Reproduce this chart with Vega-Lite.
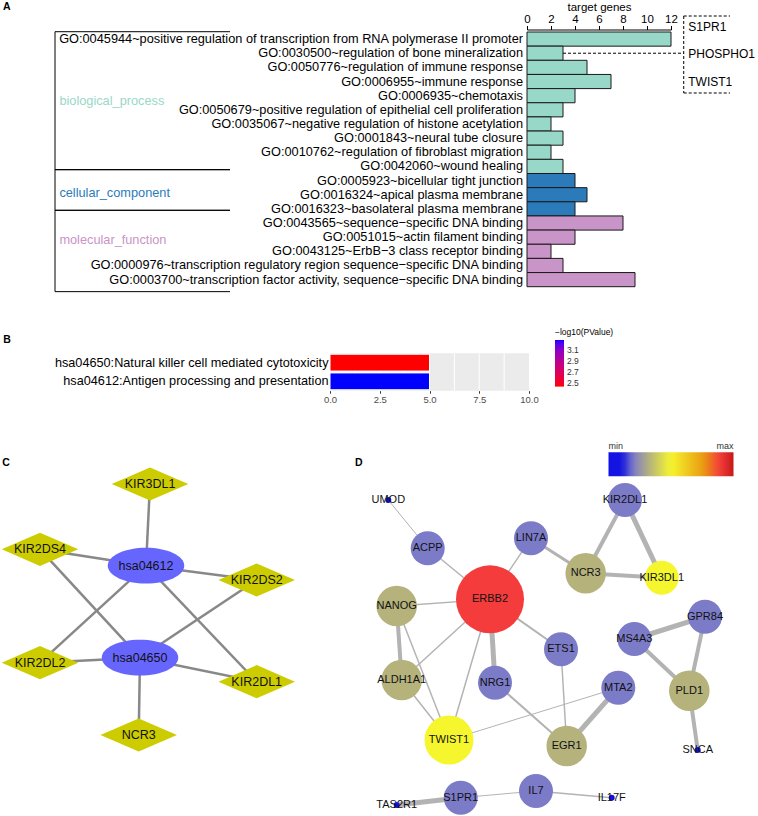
{
"$schema": "https://vega.github.io/schema/vega-lite/v6.json",
"width": 758,
"height": 816,
"autosize": {"type": "none"},
"padding": 0,
"background": "#ffffff",
"config": {"font": "Liberation Sans", "view": {"stroke": null}},
"datasets": {
 "goTerms": [
  {"term": "GO:0045944~positive regulation of transcription from RNA polymerase II promoter", "category": "biological_process", "genes": 12},
  {"term": "GO:0030500~regulation of bone mineralization", "category": "biological_process", "genes": 3},
  {"term": "GO:0050776~regulation of immune response", "category": "biological_process", "genes": 5},
  {"term": "GO:0006955~immune response", "category": "biological_process", "genes": 7},
  {"term": "GO:0006935~chemotaxis", "category": "biological_process", "genes": 4},
  {"term": "GO:0050679~positive regulation of epithelial cell proliferation", "category": "biological_process", "genes": 3},
  {"term": "GO:0035067~negative regulation of histone acetylation", "category": "biological_process", "genes": 2},
  {"term": "GO:0001843~neural tube closure", "category": "biological_process", "genes": 3},
  {"term": "GO:0010762~regulation of fibroblast migration", "category": "biological_process", "genes": 2},
  {"term": "GO:0042060~wound healing", "category": "biological_process", "genes": 3},
  {"term": "GO:0005923~bicellular tight junction", "category": "cellular_component", "genes": 4},
  {"term": "GO:0016324~apical plasma membrane", "category": "cellular_component", "genes": 5},
  {"term": "GO:0016323~basolateral plasma membrane", "category": "cellular_component", "genes": 4},
  {"term": "GO:0043565~sequence−specific DNA binding", "category": "molecular_function", "genes": 8},
  {"term": "GO:0051015~actin filament binding", "category": "molecular_function", "genes": 4},
  {"term": "GO:0043125~ErbB−3 class receptor binding", "category": "molecular_function", "genes": 2},
  {"term": "GO:0000976~transcription regulatory region sequence−specific DNA binding", "category": "molecular_function", "genes": 3},
  {"term": "GO:0003700~transcription factor activity, sequence−specific DNA binding", "category": "molecular_function", "genes": 9}
 ],
 "goCategories": [
  {"category": "biological_process", "from": -0.02, "to": 9.73, "mid": 4.88},
  {"category": "cellular_component", "from": 9.73, "to": 12.6, "mid": 11.38},
  {"category": "molecular_function", "from": 12.6, "to": 18.35, "mid": 14.68}
 ],
 "boneGenes": [{"gene": "S1PR1"}, {"gene": "PHOSPHO1"}, {"gene": "TWIST1"}],
 "kegg": [
  {"term": "hsa04650:Natural killer cell mediated cytotoxicity", "count": 5, "logp": 2.44},
  {"term": "hsa04612:Antigen processing and presentation", "count": 5, "logp": 3.28}
 ],
 "gridB": [{"at": 1.25}, {"at": 2.5}, {"at": 3.75}, {"at": 5}, {"at": 6.25}, {"at": 7.5}, {"at": 8.75}],
 "nodesC": [
  {"id": "KIR3DL1", "type": "gene", "x": 150, "y": 64},
  {"id": "KIR2DS4", "type": "gene", "x": 40, "y": 129.3},
  {"id": "hsa04612", "type": "pathway", "x": 146, "y": 145.7},
  {"id": "KIR2DS2", "type": "gene", "x": 256.7, "y": 160},
  {"id": "hsa04650", "type": "pathway", "x": 140, "y": 237.7},
  {"id": "KIR2DL2", "type": "gene", "x": 40, "y": 242.7},
  {"id": "KIR2DL1", "type": "gene", "x": 256.7, "y": 261.7},
  {"id": "NCR3", "type": "gene", "x": 138.7, "y": 315}
 ],
 "edgesC": [
  {"source": "hsa04612", "target": "KIR3DL1"},
  {"source": "hsa04612", "target": "KIR2DS4"},
  {"source": "hsa04612", "target": "KIR2DS2"},
  {"source": "hsa04612", "target": "KIR2DL2"},
  {"source": "hsa04612", "target": "KIR2DL1"},
  {"source": "hsa04650", "target": "KIR2DS4"},
  {"source": "hsa04650", "target": "KIR2DS2"},
  {"source": "hsa04650", "target": "KIR2DL2"},
  {"source": "hsa04650", "target": "KIR2DL1"},
  {"source": "hsa04650", "target": "NCR3"}
 ],
 "nodesD": [
  {"id": "UMOD", "x": 88.3, "y": 80, "degree": 1, "score": 0},
  {"id": "ACPP", "x": 127.7, "y": 128.3, "degree": 2, "score": 0.9},
  {"id": "LIN7A", "x": 231, "y": 118.3, "degree": 2, "score": 0.9},
  {"id": "KIR2DL1", "x": 325, "y": 80, "degree": 2, "score": 0.9},
  {"id": "NCR3", "x": 285.7, "y": 153.3, "degree": 3, "score": 1.5},
  {"id": "KIR3DL1", "x": 361.7, "y": 157.7, "degree": 2, "score": 2.3},
  {"id": "ERBB2", "x": 190, "y": 179.3, "degree": 7, "score": 4.1},
  {"id": "NANOG", "x": 96.7, "y": 186, "degree": 3, "score": 1.5},
  {"id": "GPR84", "x": 405, "y": 196.7, "degree": 2, "score": 0.9},
  {"id": "MS4A3", "x": 334.3, "y": 219, "degree": 2, "score": 0.9},
  {"id": "ETS1", "x": 261, "y": 229.3, "degree": 2, "score": 0.9},
  {"id": "ALDH1A1", "x": 101.7, "y": 260, "degree": 3, "score": 1.5},
  {"id": "NRG1", "x": 195, "y": 262.7, "degree": 2, "score": 0.9},
  {"id": "MTA2", "x": 318.3, "y": 267.7, "degree": 2, "score": 0.9},
  {"id": "PLD1", "x": 389.3, "y": 270.7, "degree": 3, "score": 1.5},
  {"id": "TWIST1", "x": 149, "y": 320, "degree": 4, "score": 2.3},
  {"id": "EGR1", "x": 266.7, "y": 326, "degree": 3, "score": 1.5},
  {"id": "SNCA", "x": 397.7, "y": 330, "degree": 1, "score": 0},
  {"id": "TAS2R1", "x": 96.7, "y": 385, "degree": 1, "score": 0},
  {"id": "S1PR1", "x": 160.7, "y": 377.7, "degree": 2, "score": 0.9},
  {"id": "IL7", "x": 236, "y": 371, "degree": 2, "score": 0.9},
  {"id": "IL17F", "x": 311.7, "y": 377.7, "degree": 1, "score": 0}
 ],
 "edgesD": [
  {"source": "UMOD", "target": "ACPP", "weight": 0.40},
  {"source": "ACPP", "target": "ERBB2", "weight": 0.47},
  {"source": "LIN7A", "target": "ERBB2", "weight": 0.47},
  {"source": "LIN7A", "target": "NCR3", "weight": 0.70},
  {"source": "NCR3", "target": "KIR2DL1", "weight": 0.84},
  {"source": "KIR2DL1", "target": "KIR3DL1", "weight": 0.99},
  {"source": "NCR3", "target": "KIR3DL1", "weight": 0.84},
  {"source": "NANOG", "target": "ERBB2", "weight": 0.45},
  {"source": "ERBB2", "target": "ETS1", "weight": 0.55},
  {"source": "ERBB2", "target": "NRG1", "weight": 0.99},
  {"source": "ERBB2", "target": "ALDH1A1", "weight": 0.47},
  {"source": "ERBB2", "target": "TWIST1", "weight": 0.47},
  {"source": "NANOG", "target": "ALDH1A1", "weight": 0.84},
  {"source": "NANOG", "target": "TWIST1", "weight": 0.47},
  {"source": "ALDH1A1", "target": "TWIST1", "weight": 0.47},
  {"source": "NRG1", "target": "EGR1", "weight": 0.55},
  {"source": "ETS1", "target": "EGR1", "weight": 0.47},
  {"source": "MTA2", "target": "EGR1", "weight": 0.99},
  {"source": "MTA2", "target": "TWIST1", "weight": 0.40},
  {"source": "GPR84", "target": "MS4A3", "weight": 0.99},
  {"source": "MS4A3", "target": "PLD1", "weight": 0.84},
  {"source": "GPR84", "target": "PLD1", "weight": 0.84},
  {"source": "PLD1", "target": "SNCA", "weight": 0.84},
  {"source": "TAS2R1", "target": "S1PR1", "weight": 0.99},
  {"source": "S1PR1", "target": "IL7", "weight": 0.40},
  {"source": "IL7", "target": "IL17F", "weight": 0.47}
 ],
 "panels": [
  {"panel": "A", "px": 0.004, "py": 0.0086},
  {"panel": "B", "px": 0.0044, "py": 0.4167},
  {"panel": "C", "px": 0.003, "py": 0.567},
  {"panel": "D", "px": 0.4683, "py": 0.567}
 ]
},
"layer": [
 {
  "layer": [
   {
    "data": {"name": "goTerms"},
    "layer": [
     {
      "mark": {"type": "bar", "stroke": "#1a1a1a", "strokeWidth": 1},
      "encoding": {
       "y": {"field": "term", "type": "nominal", "sort": null,
        "scale": {"range": [32, 286.7], "paddingInner": 0, "paddingOuter": 0},
        "axis": {"orient": "left", "offset": -527, "title": null, "domain": false, "ticks": false, "labelPadding": 4.5, "labelFontSize": 12.75, "labelColor": "#000000", "labelLimit": 600}},
       "x": {"field": "genes", "type": "quantitative",
        "scale": {"domain": [0, 12], "range": [527, 671], "nice": false, "zero": true},
        "axis": {"orient": "top", "offset": -29.5, "values": [0, 2, 4, 6, 8, 10, 12], "format": "d", "title": "target genes", "titleFontSize": 11.5, "titleFontWeight": "normal", "titleColor": "#000000", "titlePadding": 1, "labelFontSize": 11.5, "labelColor": "#000000", "labelPadding": 1, "labelFlush": false, "tickSize": 4, "tickColor": "#000000", "domainColor": "#000000", "grid": false}},
       "fill": {"field": "category", "type": "nominal", "scale": {"domain": ["biological_process", "cellular_component", "molecular_function"], "range": ["#98d8c8", "#2b7bba", "#c994c7"]}, "legend": null}
      }
     },
     {
      "transform": [{"filter": "datum.term === 'GO:0030500~regulation of bone mineralization'"}],
      "mark": {"type": "rule", "stroke": "#000000", "strokeWidth": 1, "strokeDash": [3, 2]},
      "encoding": {
       "y": {"field": "term", "type": "nominal", "sort": null},
       "x": {"field": "genes", "type": "quantitative"},
       "x2": {"datum": 13.06}
      }
     }
    ]
   },
   {
    "data": {"name": "goCategories"},
    "layer": [
     {
      "mark": {"type": "rule", "stroke": "#000000", "strokeWidth": 1},
      "encoding": {
       "x": {"datum": 0, "type": "quantitative", "scale": {"domain": [0, 1], "range": [55, 230], "nice": false, "zero": false}, "axis": null},
       "x2": {"datum": 1},
       "y": {"field": "from", "type": "quantitative", "scale": {"domain": [0, 18], "range": [32, 286.7], "nice": false, "zero": false}, "axis": null}
      }
     },
     {
      "mark": {"type": "rule", "stroke": "#000000", "strokeWidth": 1},
      "encoding": {
       "x": {"datum": 0, "type": "quantitative", "scale": {"domain": [0, 1], "range": [55, 230], "nice": false, "zero": false}, "axis": null},
       "x2": {"datum": 1},
       "y": {"field": "to", "type": "quantitative", "scale": {"domain": [0, 18], "range": [32, 286.7], "nice": false, "zero": false}, "axis": null}
      }
     },
     {
      "mark": {"type": "rule", "stroke": "#000000", "strokeWidth": 1},
      "encoding": {
       "x": {"datum": 0, "type": "quantitative", "scale": {"domain": [0, 1], "range": [55, 230], "nice": false, "zero": false}, "axis": null},
       "y": {"aggregate": "min", "field": "from", "type": "quantitative", "scale": {"domain": [0, 18], "range": [32, 286.7], "nice": false, "zero": false}, "axis": null},
       "y2": {"aggregate": "max", "field": "to"}
      }
     },
     {
      "mark": {"type": "text", "align": "left", "baseline": "middle", "fontSize": 12.75},
      "encoding": {
       "x": {"datum": 0.025, "type": "quantitative", "scale": {"domain": [0, 1], "range": [55, 230], "nice": false, "zero": false}, "axis": null},
       "y": {"field": "mid", "type": "quantitative", "scale": {"domain": [0, 18], "range": [32, 286.7], "nice": false, "zero": false}, "axis": null},
       "text": {"field": "category"},
       "fill": {"field": "category", "type": "nominal", "scale": {"domain": ["biological_process", "cellular_component", "molecular_function"], "range": ["#98d8c8", "#2b7bba", "#c994c7"]}, "legend": null}
      }
     }
    ]
   },
   {
    "data": {"values": [{}]},
    "layer": [
     {
      "mark": {"type": "rule", "stroke": "#000000", "strokeWidth": 1, "strokeDash": [3, 2]},
      "encoding": {
       "x": {"datum": 13.06, "type": "quantitative", "scale": {"domain": [0, 12], "range": [527, 671], "nice": false, "zero": false}, "axis": null},
       "y": {"datum": -1.13, "type": "quantitative", "scale": {"domain": [0, 18], "range": [32, 286.7], "nice": false, "zero": false}, "axis": null},
       "y2": {"datum": 4.31}
      }
     },
     {
      "mark": {"type": "rule", "stroke": "#000000", "strokeWidth": 1, "strokeDash": [3, 2]},
      "encoding": {
       "x": {"datum": 13.06, "type": "quantitative", "scale": {"domain": [0, 12], "range": [527, 671], "nice": false, "zero": false}, "axis": null},
       "x2": {"datum": 16.92},
       "y": {"datum": -1.13, "type": "quantitative", "scale": {"domain": [0, 18], "range": [32, 286.7], "nice": false, "zero": false}, "axis": null}
      }
     },
     {
      "mark": {"type": "rule", "stroke": "#000000", "strokeWidth": 1, "strokeDash": [3, 2]},
      "encoding": {
       "x": {"datum": 13.06, "type": "quantitative", "scale": {"domain": [0, 12], "range": [527, 671], "nice": false, "zero": false}, "axis": null},
       "x2": {"datum": 16.92},
       "y": {"datum": 4.31, "type": "quantitative", "scale": {"domain": [0, 18], "range": [32, 286.7], "nice": false, "zero": false}, "axis": null}
      }
     }
    ]
   },
   {
    "data": {"name": "boneGenes"},
    "mark": {"type": "text", "align": "left", "baseline": "middle", "fontSize": 12, "fill": "#000000"},
    "encoding": {
     "x": {"datum": 13.44, "type": "quantitative", "scale": {"domain": [0, 12], "range": [527, 671], "nice": false, "zero": false}, "axis": null},
     "y": {"field": "gene", "type": "nominal", "sort": null, "scale": {"type": "point", "range": [26.7, 82], "padding": 0}, "axis": null},
     "text": {"field": "gene"}
    }
   }
  ],
  "resolve": {"scale": {"x": "independent", "y": "independent"}}
 },
 {
  "layer": [
   {
    "layer": [
     {
      "data": {"values": [{}]},
      "mark": {"type": "rect", "fill": "#ebebeb"},
      "encoding": {
       "x": {"datum": 0, "type": "quantitative", "scale": {"domain": [0, 10], "range": [330, 529], "nice": false, "zero": false}, "axis": null},
       "x2": {"datum": 10},
       "y": {"datum": 0, "type": "quantitative", "scale": {"domain": [0, 1], "range": [353.3, 390.7], "nice": false, "zero": false}, "axis": null},
       "y2": {"datum": 1}
      }
     },
     {
      "data": {"name": "gridB"},
      "mark": {"type": "rule", "stroke": "#ffffff", "strokeWidth": 1},
      "encoding": {
       "x": {"field": "at", "type": "quantitative", "scale": {"domain": [0, 10], "range": [330, 529], "nice": false, "zero": false}, "axis": null},
       "y": {"datum": 0, "type": "quantitative", "scale": {"domain": [0, 1], "range": [353.3, 390.7], "nice": false, "zero": false}, "axis": null},
       "y2": {"datum": 1}
      }
     }
    ]
   },
   {
    "data": {"name": "kegg"},
    "mark": {"type": "bar", "stroke": "#ffffff", "strokeWidth": 1},
    "encoding": {
     "y": {"field": "term", "type": "nominal", "sort": null,
      "scale": {"range": [353.3, 390.7], "paddingInner": 0.1, "paddingOuter": 0.05},
      "axis": {"orient": "left", "offset": -330, "title": null, "domain": false, "ticks": false, "labelPadding": 2, "labelFontSize": 12.7, "labelColor": "#000000", "labelLimit": 600}},
     "x": {"field": "count", "type": "quantitative",
      "scale": {"domain": [0, 10], "range": [330, 529], "nice": false, "zero": false},
      "axis": {"orient": "bottom", "offset": -425.3, "values": [0, 2.5, 5, 7.5, 10], "format": ".1f", "grid": false, "domain": false, "tickSize": 2.5, "tickColor": "#333333", "labelColor": "#4d4d4d", "labelFontSize": 9.5, "labelPadding": 1.5, "labelFlush": false, "title": null}},
     "color": {"field": "logp", "type": "quantitative",
      "scale": {"range": ["#ff0000", "#0000ff"], "interpolate": "lab", "zero": false, "nice": false},
      "legend": {"orient": "none", "legendX": 555, "legendY": 328, "direction": "vertical", "title": "−log10(PValue)", "titleFontSize": 8.5, "titleFontWeight": "normal", "titleColor": "#000000", "titlePadding": 3.5, "gradientLength": 46.6, "gradientThickness": 9, "gradientStrokeWidth": 0, "values": [2.5, 2.7, 2.9, 3.1], "format": ".1f", "labelFontSize": 8.5, "labelColor": "#333333", "labelOffset": 3, "labelOverlap": false}}
    }
   }
  ],
  "resolve": {"scale": {"x": "independent", "y": "independent"}}
 },
 {
  "layer": [
   {
    "data": {"name": "edgesC"},
    "transform": [
     {"lookup": "source", "from": {"data": {"name": "nodesC"}, "key": "id", "fields": ["x", "y"]}, "as": ["sx", "sy"]},
     {"lookup": "target", "from": {"data": {"name": "nodesC"}, "key": "id", "fields": ["x", "y"]}, "as": ["tx", "ty"]}
    ],
    "mark": {"type": "rule", "stroke": "#888888", "strokeWidth": 2.5},
    "encoding": {
     "x": {"field": "sx", "type": "quantitative", "scale": {"domain": [0, 300], "range": [0, 300], "nice": false, "zero": false}, "axis": null},
     "y": {"field": "sy", "type": "quantitative", "scale": {"domain": [0, 340], "range": [420, 760], "nice": false, "zero": false}, "axis": null},
     "x2": {"field": "tx"},
     "y2": {"field": "ty"}
    }
   },
   {
    "data": {"name": "nodesC"},
    "mark": {"type": "point", "filled": true, "opacity": 1, "size": 5850, "strokeWidth": 0},
    "encoding": {
     "x": {"field": "x", "type": "quantitative", "scale": {"domain": [0, 300], "range": [0, 300], "nice": false, "zero": false}, "axis": null},
     "y": {"field": "y", "type": "quantitative", "scale": {"domain": [0, 340], "range": [420, 760], "nice": false, "zero": false}, "axis": null},
     "shape": {"field": "type", "type": "nominal", "scale": {"domain": ["pathway", "gene"], "range": ["M-1,0A1,0.4675,0,1,1,1,0A1,0.4675,0,1,1,-1,0Z", "M-1,0L0,-0.434L1,0L0,0.434Z"]}, "legend": null},
     "color": {"field": "type", "type": "nominal", "scale": {"domain": ["pathway", "gene"], "range": ["#6666ff", "#cccc00"]}, "legend": null}
    }
   },
   {
    "data": {"name": "nodesC"},
    "mark": {"type": "text", "fontSize": 12.5, "fill": "#111111", "baseline": "middle", "align": "center"},
    "encoding": {
     "x": {"field": "x", "type": "quantitative", "scale": {"domain": [0, 300], "range": [0, 300], "nice": false, "zero": false}, "axis": null},
     "y": {"field": "y", "type": "quantitative", "scale": {"domain": [0, 340], "range": [420, 760], "nice": false, "zero": false}, "axis": null},
     "text": {"field": "id"}
    }
   }
  ]
 },
 {
  "layer": [
   {
    "data": {"name": "edgesD"},
    "transform": [
     {"lookup": "source", "from": {"data": {"name": "nodesD"}, "key": "id", "fields": ["x", "y"]}, "as": ["sx", "sy"]},
     {"lookup": "target", "from": {"data": {"name": "nodesD"}, "key": "id", "fields": ["x", "y"]}, "as": ["tx", "ty"]}
    ],
    "mark": {"type": "rule", "stroke": "#b3b3b3"},
    "encoding": {
     "x": {"field": "sx", "type": "quantitative", "scale": {"domain": [0, 458], "range": [300, 758], "nice": false, "zero": false}, "axis": null},
     "y": {"field": "sy", "type": "quantitative", "scale": {"domain": [0, 400], "range": [420, 820], "nice": false, "zero": false}, "axis": null},
     "x2": {"field": "tx"},
     "y2": {"field": "ty"},
     "strokeWidth": {"field": "weight", "type": "quantitative", "scale": {"domain": [0.4, 0.99], "range": [1, 5]}, "legend": null}
    }
   },
   {
    "data": {"name": "nodesD"},
    "mark": {"type": "circle", "opacity": 1, "strokeWidth": 0},
    "encoding": {
     "x": {"field": "x", "type": "quantitative", "scale": {"domain": [0, 458], "range": [300, 758], "nice": false, "zero": false}, "axis": null},
     "y": {"field": "y", "type": "quantitative", "scale": {"domain": [0, 400], "range": [420, 820], "nice": false, "zero": false}, "axis": null},
     "size": {"field": "degree", "type": "quantitative", "scale": {"domain": [1, 2, 3, 4, 7], "range": [36, 1156, 1640, 2401, 4624]}, "legend": null},
     "color": {"field": "score", "type": "quantitative",
      "scale": {"domain": [0, 0.5, 0.9, 1.5, 2.3, 3.5, 4.1, 4.6], "range": ["#1212e6", "#1616de", "#7c7bc8", "#b5b27c", "#f6f62e", "#e89a10", "#f43c3c", "#c41a18"], "interpolate": "rgb"},
      "legend": {"orient": "none", "legendX": 608.5, "legendY": 452.3, "direction": "horizontal", "title": null, "gradientLength": 125, "gradientThickness": 24, "gradientStrokeWidth": 0, "values": [0, 4.6], "labelExpr": "datum.value < 1 ? 'min' : 'max'", "labelFontSize": 9, "labelColor": "#333333", "labelOffset": -34, "labelOverlap": false}}
    }
   },
   {
    "data": {"name": "nodesD"},
    "mark": {"type": "text", "fill": "#111111", "baseline": "middle", "align": "center"},
    "encoding": {
     "x": {"field": "x", "type": "quantitative", "scale": {"domain": [0, 458], "range": [300, 758], "nice": false, "zero": false}, "axis": null},
     "y": {"field": "y", "type": "quantitative", "scale": {"domain": [0, 400], "range": [420, 820], "nice": false, "zero": false}, "axis": null},
     "text": {"field": "id"},
     "fontSize": {"condition": {"test": "datum.id === 'NRG1'", "value": 9.5}, "value": 12.5}
    }
   }
  ]
 },
 {
  "data": {"name": "panels"},
  "mark": {"type": "text", "fontWeight": "bold", "fontSize": 10.5, "align": "left", "baseline": "middle", "fill": "#000000"},
  "encoding": {
   "x": {"field": "px", "type": "quantitative", "scale": {"domain": [0, 1], "range": [0, 758], "nice": false, "zero": false}, "axis": null},
   "y": {"field": "py", "type": "quantitative", "scale": {"domain": [0, 1], "range": [0, 816], "nice": false, "zero": false}, "axis": null},
   "text": {"field": "panel"}
  }
 }
],
"resolve": {"scale": {"x": "independent", "y": "independent", "color": "independent", "fill": "independent", "size": "independent", "shape": "independent", "strokeWidth": "independent"}}
}
